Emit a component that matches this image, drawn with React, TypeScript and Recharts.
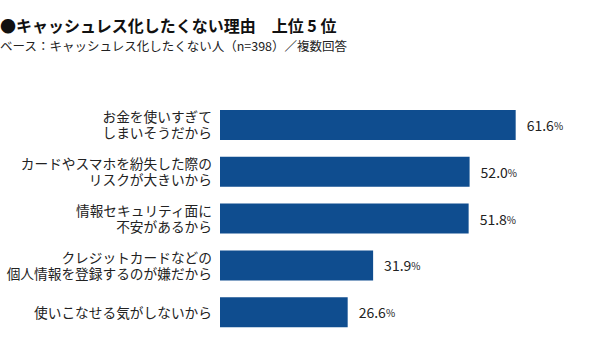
import React from 'react';
import { BarChart, Bar, XAxis, YAxis, LabelList } from 'recharts';

const FONT = '"Noto Sans CJK JP", "Noto Sans", sans-serif';
const BAR_COLOR = '#0f4d8f';
const TEXT_COLOR = '#222';

const TITLE = '●キャッシュレス化したくない理由　上位 5 位';
const SUBTITLE = 'ベース：キャッシュレス化したくない人（n=398）／複数回答';

const categories = [
  'お金を使いすぎて\nしまいそうだから',
  'カードやスマホを紛失した際の\nリスクが大きいから',
  '情報セキュリティ面に\n不安があるから',
  'クレジットカードなどの\n個人情報を登録するのが嫌だから',
  '使いこなせる気がしないから',
];
const values = [61.6, 52.0, 51.8, 31.9, 26.6];

const chartData = categories.map((name, i) => ({ name, value: values[i] }));

function CategoryTick(props: any) {
  const { x, y, payload } = props;
  const lines: string[] = String(payload.value).split('\n');
  const lineH = 16;
  const start = -((lines.length - 1) * lineH) / 2 - 1;
  return (
    <text
      x={x}
      y={y}
      textAnchor="end"
      fontFamily={FONT}
      fontSize={13.7}
      fill={TEXT_COLOR}
    >
      {lines.map((line, i) => (
        <tspan key={i} x={x} y={y + start + i * lineH} dominantBaseline="central">
          {line}
        </tspan>
      ))}
    </text>
  );
}

function ValueLabel(props: any) {
  const { x, y, width, height, value } = props;
  return (
    <text
      x={x + width + 11}
      y={y + height / 2}
      dominantBaseline="central"
      fontFamily={FONT}
      fill={TEXT_COLOR}
    >
      <tspan fontSize={14}>{Number(value).toFixed(1)}</tspan>
      <tspan fontSize={10}>%</tspan>
    </text>
  );
}

export default function App() {
  return (
    <div
      style={{
        position: 'absolute',
        top: 0,
        left: 0,
        width: 600,
        height: 350,
        background: '#fff',
        fontFamily: FONT,
        color: TEXT_COLOR,
      }}
    >
      <div
        style={{
          position: 'absolute',
          left: 0,
          top: 15,
          fontSize: 16,
          fontWeight: 700,
          color: '#111',
          lineHeight: '20px',
          whiteSpace: 'pre',
        }}
      >
        {TITLE}
      </div>
      <div
        style={{
          position: 'absolute',
          left: 0,
          top: 38,
          fontSize: 12.5,
          lineHeight: '16px',
          whiteSpace: 'pre',
        }}
      >
        {SUBTITLE}
      </div>
      <div style={{ position: 'absolute', left: 0, top: 0 }}>
        <BarChart
          width={600}
          height={350}
          data={chartData}
          layout="vertical"
          margin={{ top: 102, right: 20, bottom: 14, left: 0 }}
        >
          <XAxis type="number" domain={[0, 75]} hide />
          <YAxis
            type="category"
            dataKey="name"
            width={220}
            axisLine={false}
            tickLine={false}
            tick={<CategoryTick />}
            interval={0}
          />
          <Bar dataKey="value" fill={BAR_COLOR} barSize={30} isAnimationActive={false}>
            <LabelList dataKey="value" content={<ValueLabel />} />
          </Bar>
        </BarChart>
      </div>
    </div>
  );
}
